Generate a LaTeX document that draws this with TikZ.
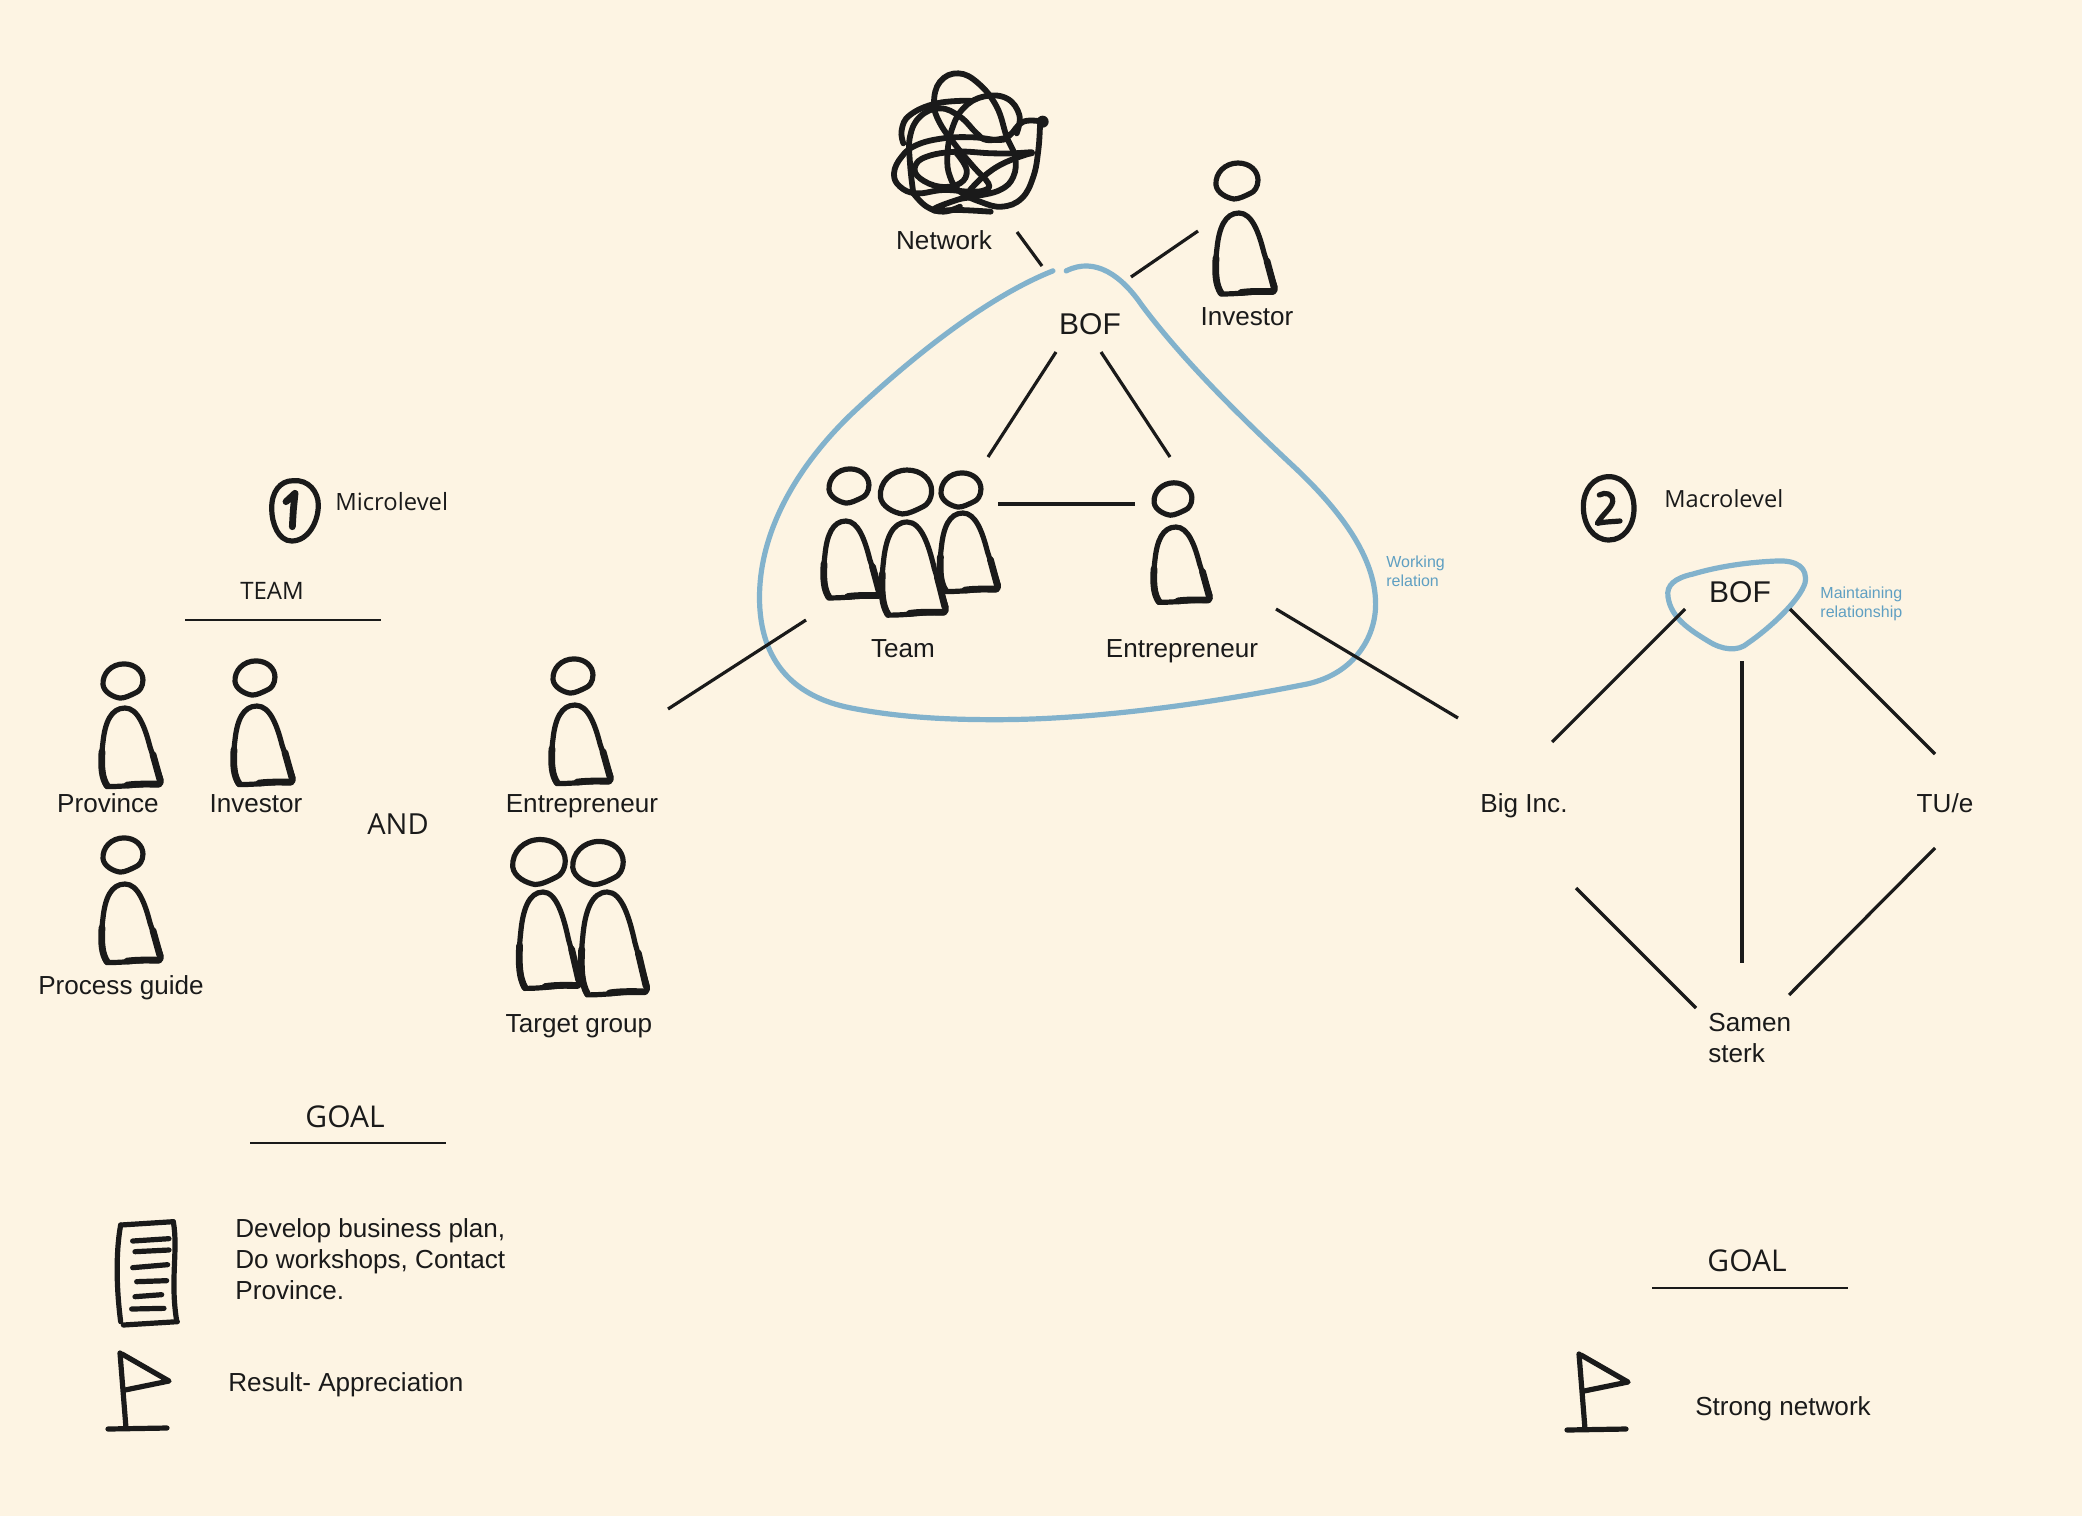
\documentclass[tikz,border=0pt]{standalone}
\usepackage{fontspec}
\setmainfont{Liberation Sans}
\newfontfamily\humanist{Open Sans}
\definecolor{paper}{HTML}{FDF4E3}
\definecolor{ink}{HTML}{1A1A1A}
\definecolor{loopblue}{HTML}{82B2CC}
\definecolor{noteblue}{HTML}{5F9FC2}
\tikzset{
  lab/.style={font=\fontsize{13.05}{15.5}\selectfont,text=ink,inner sep=0pt,anchor=base},
  labw/.style={lab,anchor=base west},
  hum/.style={font=\humanist\fontsize{#1}{#1}\selectfont,text=ink,inner sep=0pt,anchor=base},
  note/.style={font=\fontsize{8}{9.6}\selectfont,text=noteblue,inner sep=0pt,anchor=west,align=left},
  link/.style={draw=ink,line width=1.6pt},
  rule/.style={draw=ink,line width=.8pt},
  sketch/.style={draw=ink,line width=2.6pt,line cap=round,line join=round},
  heavy/.style={draw=ink,line width=3.4pt,line cap=round,line join=round},
  tangle/.style={draw=ink,line width=2.9pt,line cap=round,line join=round},
  loop/.style={draw=loopblue,line width=2.6pt,line cap=round,line join=round},
}
% head x, head y, head scale, body x scale, body y scale, body x, body top y
\newcommand{\sketchperson}[7]{%
  \begin{scope}[shift={(#1,#2)},scale=#3]
    \draw[sketch] (-21,4) .. controls (-22,-8) and (-12,-18) .. (1,-18)
      .. controls (13,-18) and (21,-10) .. (21,-1)
      .. controls (21,6) and (17,11) .. (14,12)
      .. controls (8,15) and (2,18) .. (-3,18)
      .. controls (-10,17) and (-20,12) .. (-21,4) -- cycle;
  \end{scope}
  \begin{scope}[shift={(#6,#7)},xscale=#4,yscale=#5]
    \draw[sketch] (-16,81) .. controls (-22,70) and (-22,50) .. (-20,35)
      .. controls (-18,15) and (-12,0) .. (2,0)
      .. controls (15,0) and (22,20) .. (27,40) -- (38,74)
      .. controls (39,79) and (36,79) .. (32,79)
      .. controls (20,78) and (5,81) .. (-16,81);
    \draw[heavy] (-21,45) .. controls (-22,62) and (-21,72) .. (-16,80);
    \draw[heavy] (30,48) -- (37,74);
    \draw[heavy] (4,79.5) .. controls (15,78) and (25,78.5) .. (36,78.5);
  \end{scope}}
% flag, origin at the top of its pole
\newcommand{\sketchflag}[2]{%
  \begin{scope}[shift={(#1,#2)}]
    \draw[sketch] (0,0) -- (6,75);
    \draw[sketch] (2,1) -- (49,28) -- (5,37);
    \draw[sketch] (-12,76) -- (47,75);
  \end{scope}}
\begin{document}
\begin{tikzpicture}[x=.5pt,y=-.5pt]
\useasboundingbox (0,0) rectangle (2082,1516);
\fill[paper] (0,0) rectangle (2082,1516);

% ---------- centre: tangle ----------
\begin{scope}[shift={(860,50)},scale=.33333]
  \draw[tangle] plot[smooth,tension=.7] coordinates {(548,215) (490,215) (450,255) (420,270) (340,262) (250,265) (170,285) (125,320) (102,370) (120,410) (170,430) (250,420) (330,425) (375,420) (385,400) (340,350) (290,290) (240,220) (222,160) (240,95) (295,70) (355,100) (410,170) (440,260) (465,320) (460,380) (420,420) (340,440) (290,450) (220,480) (300,480) (392,485)};
  \draw[tangle] plot[smooth,tension=.7] coordinates {(540,225) (535,300) (520,380) (485,445) (425,470) (360,455) (300,425) (270,380) (262,320) (275,240) (310,175) (370,140) (440,145) (478,195) (470,250)};
  \draw[tangle] plot[smooth,tension=.7] coordinates {(515,310) (400,310) (290,305) (200,320) (165,350) (180,385) (240,410) (300,400) (320,360) (290,310)};
  \draw[tangle] plot[smooth,tension=.7] coordinates {(510,310) (430,340) (370,380) (330,420)};
  \draw[tangle] plot[smooth,tension=.7] coordinates {(160,430) (150,340) (150,260) (180,200) (240,175) (300,200) (350,250) (380,270) (430,265)};
  \draw[tangle] plot[smooth,tension=.7] coordinates {(130,280) (125,240) (150,195) (230,160) (330,152)};
  \draw[tangle] plot[smooth,tension=.7] coordinates {(160,430) (200,470) (250,485) (300,470)};
  \fill[ink] (548,215) circle (18);
  \draw[heavy] (470,311) -- (515,308);
\end{scope}

% ---------- people ----------
\sketchperson{1237}{181}{1}{1}{1}{1237}{213}
\sketchperson{849}{486}{.95}{.95}{.95}{844}{521}
\sketchperson{961}{490}{.95}{.98}{.97}{961}{513}
\sketchperson{906}{492}{1.22}{1.08}{1.15}{905}{522}
\sketchperson{1173}{499}{.9}{.95}{.93}{1174}{527}
\sketchperson{123}{681}{.95}{1}{.97}{123}{708}
\sketchperson{255}{678}{.95}{1}{.97}{255}{706}
\sketchperson{123}{855}{.95}{1}{.97}{123}{884}
\sketchperson{573}{676}{.95}{1}{.97}{573}{705}
\sketchperson{539}{862}{1.25}{1.02}{1.19}{541}{892}
\sketchperson{598}{863}{1.2}{1.11}{1.27}{605}{892}

% ---------- blue loops ----------
\begin{scope}[scale=1.3278]
  \draw[loop] (793,204) .. controls (740,225) and (680,275) .. (640,313)
    .. controls (600,352) and (572,400) .. (572,450)
    .. controls (572,500) and (600,525) .. (640,533)
    .. controls (680,541) and (720,542) .. (750,542)
    .. controls (830,542) and (920,528) .. (985,515)
    .. controls (1020,507) and (1036,480) .. (1036,455)
    .. controls (1036,420) and (1010,385) .. (975,352)
    .. controls (930,310) and (890,270) .. (860,230)
    .. controls (845,208) and (825,193) .. (803,204);
\end{scope}
\draw[loop] (1668,597) .. controls (1666,585) and (1675,578) .. (1693,574)
  .. controls (1720,566) and (1750,562) .. (1777,561)
  .. controls (1797,560) and (1808,568) .. (1805,583)
  .. controls (1800,600) and (1770,628) .. (1748,643)
  .. controls (1738,652) and (1722,650) .. (1708,641)
  .. controls (1690,630) and (1671,618) .. (1668,597) -- cycle;

% ---------- numbered circles ----------
\begin{scope}[shift={(250,460)},scale=.33333]
  \draw[sketch] (130,62) .. controls (175,58) and (205,95) .. (205,135)
    .. controls (205,185) and (175,243) .. (125,243)
    .. controls (85,243) and (65,190) .. (65,145)
    .. controls (65,95) and (90,62) .. (130,62) -- cycle;
  \draw[heavy] (108,125) -- (135,100) -- (130,150) -- (127,200);
\end{scope}
\begin{scope}[shift={(1560,460)},scale=.33333]
  \draw[sketch] (147,50) .. controls (195,50) and (222,95) .. (222,145)
    .. controls (222,200) and (190,240) .. (147,240)
    .. controls (100,240) and (70,195) .. (70,140)
    .. controls (70,90) and (100,50) .. (147,50) -- cycle;
  \draw[sketch] (118,105) .. controls (135,95) and (160,100) .. (158,125) .. controls (155,145) and (125,165) .. (112,190) .. controls (135,185) and (160,185) .. (180,183);
\end{scope}

% ---------- document ----------
\begin{scope}[shift={(90,1200)},scale=.33333]
  \draw[sketch] (92,75) .. controls (80,140) and (76,240) .. (92,365);
  \draw[sketch] (92,75) -- (250,65);
  \draw[sketch] (250,65) .. controls (265,150) and (240,240) .. (260,362);
  \draw[sketch] (100,375) -- (262,365);
  \draw[sketch] (128,123) -- (237,116);
  \draw[sketch] (135,155) -- (237,150);
  \draw[sketch] (128,203) -- (233,194);
  \draw[sketch] (140,245) -- (230,242);
  \draw[sketch] (135,290) -- (215,284);
  \draw[sketch] (125,327) -- (222,325);
\end{scope}

% ---------- flags ----------
\sketchflag{120}{1353}
\sketchflag{1579}{1354}

% ---------- labels: centre ----------
\node[lab] (network) at (944,249) {Network};
\node[lab] (investorTop) at (1247,325) {Investor};
\node[lab,font=\fontsize{15}{15}\selectfont] (bofMain) at (1090,334) {BOF};
\node[lab] (team) at (903,657) {Team};
\node[lab] (entrepreneurMain) at (1182,657) {Entrepreneur};
\node[note] (working) at (1386,571) {Working\\relation};

% ---------- labels: left ----------
\node[hum=11.9,anchor=base west] (micro) at (335,510) {Microlevel};
\node[hum=12] (teamHead) at (272,599) {TEAM};
\node[lab] (province) at (108,812) {Province};
\node[lab] (investorLeft) at (256,812) {Investor};
\node[hum=14.5] (and) at (398,834) {AND};
\node[lab] (entrepreneurLeft) at (582,812) {Entrepreneur};
\node[lab] (guide) at (121,994) {Process guide};
\node[lab] (target) at (579,1032) {Target group};
\node[hum=15] (goalLeft) at (345,1127) {GOAL};
\node[lab,anchor=west,align=left] (develop) at (235,1259) {Develop business plan,\\Do workshops, Contact\\Province.};
\node[labw] (result) at (228,1391) {Result- Appreciation};

% ---------- labels: right ----------
\node[hum=11.8,anchor=base west] (macro) at (1664,507) {Macrolevel};
\node[lab,font=\fontsize{15}{15}\selectfont] (bofRight) at (1740,602) {BOF};
\node[note] (maintain) at (1820,604) {Maintaining\\relationship};
\node[lab] (biginc) at (1524,812) {Big Inc.};
\node[lab] (tue) at (1945,812) {TU/e};
\node[lab,anchor=west,align=left] (samen) at (1708,1038) {Samen\\sterk};
\node[hum=15] (goalRight) at (1747,1271) {GOAL};
\node[lab] (strong) at (1783,1415) {Strong network};

% ---------- connector ends ----------
\coordinate (netA) at (1017,232);   \coordinate (netB) at (1042,266);
\coordinate (invA) at (1198,231);   \coordinate (invB) at (1131,277);
\coordinate (bofTeamA) at (1056,352); \coordinate (bofTeamB) at (988,457);
\coordinate (bofEntA) at (1101,352);  \coordinate (bofEntB) at (1170,457);
\coordinate (teamEntA) at (998,504);  \coordinate (teamEntB) at (1135,504);
\coordinate (outLA) at (806,620);   \coordinate (outLB) at (668,709);
\coordinate (outRA) at (1276,609);  \coordinate (outRB) at (1458,718);
\coordinate (macA1) at (1685,609);  \coordinate (macA2) at (1552,742);
\coordinate (macB1) at (1790,609);  \coordinate (macB2) at (1935,754);
\coordinate (macC1) at (1742,661);  \coordinate (macC2) at (1742,963);
\coordinate (macD1) at (1576,888);  \coordinate (macD2) at (1696,1008);
\coordinate (macE1) at (1935,848);  \coordinate (macE2) at (1789,995);
\coordinate (ruleTA) at (185,620);  \coordinate (ruleTB) at (381,620);
\coordinate (ruleGA) at (250,1143); \coordinate (ruleGB) at (446,1143);
\coordinate (ruleRA) at (1652,1288);\coordinate (ruleRB) at (1848,1288);

% ---------- connectors ----------
\foreach \a/\b in {netA/netB,invA/invB,bofTeamA/bofTeamB,bofEntA/bofEntB,teamEntA/teamEntB,outLA/outLB,outRA/outRB,macA1/macA2,macB1/macB2,macC1/macC2,macD1/macD2,macE1/macE2}
  \draw[link] (\a) -- (\b);
\foreach \a/\b in {ruleTA/ruleTB,ruleGA/ruleGB,ruleRA/ruleRB}
  \draw[rule] (\a) -- (\b);
\end{tikzpicture}
\end{document}
